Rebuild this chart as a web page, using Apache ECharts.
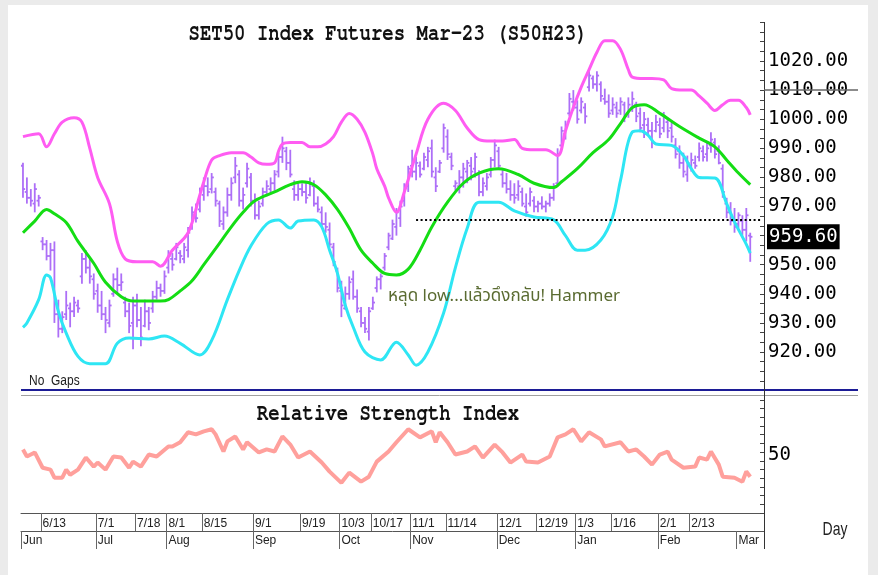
<!DOCTYPE html>
<html>
<head>
<meta charset="utf-8">
<script src="https://cdn.jsdelivr.net/npm/echarts@6.0.0/dist/echarts.min.js"></script>
<style>
  html, body { margin: 0; padding: 0; background: #ebebeb; }
  #setChart { width: 878px; height: 575px; }
</style>
</head>
<body>
<div id="setChart"></div>
<script>
  // trading calendar (SET), Jun 2022 - Mar 2023
  var tradeStart = '2022-06-06';
  var tradeEnd = '2023-03-10';
  var holidays = ['2022-07-13','2022-07-28','2022-07-29','2022-08-12','2022-10-13','2022-10-14',
    '2022-10-24','2022-12-05','2022-12-12','2023-01-02','2023-03-06'];

  var dayTicks = ['6/13','7/1','7/18','8/1','8/15','9/1','9/19','10/3','10/17','11/1','11/14',
    '12/1','12/19','1/3','1/16','2/1','2/13'];
  var monthTicks = ['6/6','7/1','8/1','9/1','10/3','11/1','12/1','1/3','2/1','3/1'];
  var monthNames = ['Jun','Jul','Aug','Sep','Oct','Nov','Dec','Jan','Feb','Mar'];
  var priceLabels = [920, 930, 940, 950, 960, 970, 980, 990, 1000, 1010, 1020];
  var rsiLabels = [50];

  var lastPrice = 959.60;
  var dottedLevel = 965.6;
  var dottedFrom = '11/2';
  var dottedTo = '3/10';

  var openP = [984,975,973,971,972,958,957,953,955,933,928,933,935,934,936,946,952,949,945,941,
    936,933,930,940,945,943,937,934,930,936,931,929,934,935,939,942,941,949,952,952,
    954,952,955,963,967,969,974,977,976,975,971,964,968,974,980,981,972,978,980,972,
    967,971,975,976,978,982,987,989,985,976,974,976,975,974,977,971,968,964,962,956,
    948,941,935,940,945,939,934,930,927,935,942,945,949,956,959,963,966,972,977,984,
    982,984,983,986,990,980,982,990,994,987,977,977,980,982,984,983,981,975,977,981,
    986,989,981,978,976,974,974,975,970,971,972,970,971,970,971,973,978,991,995,1002,
    1006,1004,1003,1004,1011,1014,1012,1012,1007,1006,1003,1004,1003,1005,1002,1004,1005,1002,998,998,
    996,996,998,997,999,997,991,989,985,981,984,985,987,989,988,991,992,989,983,971,
    968,966,964,965,962,960];
  var highP = [985,980,976,978,974,959.5,958.5,957.5,958,938,934,941,937,939,938,954,955,952,947,943.5,
    941,935.5,938,947,949,947,939,937,939,940,935.5,938,935.5,941,944.5,943.5,948,955,954,957.5,
    955,957.5,963,970,971,976.5,980,980,981.5,976.5,972,970,976.5,980,987,982.5,976.5,985,981.5,974.5,
    972,976.5,979,980,982.5,988.5,994,990.5,989.5,979,978,978,978,980,979,973.5,970,968,964.5,957.5,
    949,944.5,942.5,946,948,941.5,935.5,932,935.5,939,946,947,954,961,965.5,969.5,972,978,984,989.5,
    987,985.5,988.5,990.5,993,983.5,986,998.5,996.5,988.5,979,982.5,985,986,987,988.5,982.5,980,981.5,987,
    993,990.5,982.5,981.5,979,978,979,976.5,974.5,976.5,973.5,972,973.5,972,974.5,978,990,997.5,999.5,1009,
    1010,1006.5,1007.5,1005.5,1016.5,1015,1016.5,1013,1010.5,1008.5,1007.5,1006,1007.5,1006,1007.5,1009.5,1006,1004,1002.5,1000.5,
    999,1001.5,1000.5,1002.5,1000.5,999,993.5,991,988.5,987.5,988.5,987.5,992,991,992,995.5,993.5,991,984.5,973,
    971.5,969.5,968,967,969.5,961];
  var lowP = [973,971,970,968,970,955,951.5,948,930,925,926.5,931,928.5,932,933.5,943.5,947,943.5,938,933.5,
    931,926.5,928.5,939,940,941,932,926.5,921,928.5,922,928.5,927.5,933.5,938,939,940,947,948,951.5,
    950.5,950.5,952.5,962,964.5,968,972,973.5,974.5,970,963,962,966.5,972,978,970,969,976.5,970,965.5,
    965.5,970,973.5,974.5,975.5,980,985,982.5,980,972,972,973.5,971,973.5,970,968,963,961,956,949.5,
    940.5,932,934.5,938,938,933.5,928.5,926.5,924,934.5,940.5,941.5,948,955,958.5,960,963,970,975,980,
    979,980,982.5,983.5,980,975,981.5,988.5,986,982.5,975.5,974.5,976.5,978,979,980,973.5,973.5,975.5,980,
    983.5,982.5,976.5,974.5,972,971,972,970,966.5,970,968,968,969,968,970,972,977,990.5,993,1001,
    1003,998.5,1002,998.5,1009.5,1010.5,1009.5,1006,1005,1000.5,1001.5,1000.5,1001.5,999,1000.5,1002.5,999,995.5,993.5,994.5,
    990,995.5,993.5,995.5,993.5,992,986.5,983,980,978.5,982,983,985.5,985.5,985.5,988.5,986.5,984.5,973,966,
    963.5,961,962.5,960,958,951];
  var closeP = [976,973,972,976,973,957,953,955,933,928,932,936,934,937,935,952,949,946,940,936,
    933,931,936,945,943,944,934,929,936,931,925,934,930,939,942,941,946,953,950,956,
    953,956,961,968,966,975,977,975,980,972,965,968,974,978,984,972,974,983,972,967,
    970,975,977,978,981,987,990,985,981,974,976,975,973,978,971,969,964,963,957,951,
    942,936,940,944,939,935,930,928,934,937,945,946,953,960,964,968,970,977,983,982,
    985,981,987,989,982,977,985,997,988,984,978,980,983,985,982,987,975,978,980,986,
    991,984,978,976,974,973,977,971,968,975,970,971,970,971,973,977,988,996,998,1007,
    1004,1000,1006,1001,1015,1012,1015,1008,1006,1002,1005,1002,1006,1001,1005,1007,1001,997,1000,996,
    992,999,995,1001,996,994,988,985,982,985,986,984,990,987,990,993,988,985,975,968,
    965,963,967,962,967,959.6];

  var upperBand = [[0,994],[4,995],[6,990.5],[8,995],[10,999],[13,1000.5],[15,999],[17,990],[19,980],[22,971],
    [24,958],[26,952],[29,951],[33,951],[35,949.5],[38,955],[42,961],[45,974],[46,978.5],[48,986],
    [50,987.5],[53,988.5],[56,988.5],[58,987],[60,985],[62,984.5],[64,985],[65,989],[66,991.5],[68,992],
    [71,992],[73,990.5],[75,990.5],[77,991.5],[79,994],[81,999],[83,1002],[85,1000],[87,995.5],[89,988],
    [90,983],[92,977],[93,973],[95,968],[97,975],[100,988],[103,1000],[107,1005.5],[110,1003],[113,997],
    [116,993],[119,992.5],[122,992.5],[125,993],[127,990],[130,989.5],[133,989.5],[136,987.5],[138,996],[140,1004],
    [142,1011],[144,1017],[146,1023],[148,1027],[150,1027],[152,1024],[154,1017],[155,1014.5],[158,1014],[160,1014],
    [163,1013.5],[165,1010.5],[168,1010],[170,1010],[172,1008],[174,1005.5],[176,1003],[178,1005],[180,1006.5],[182,1006.5],
    [184,1004],[185,1001.5]];
  var midBand = [[0,961],[3,965],[6,969],[8,967.5],[11,964.5],[14,958],[18,950.5],[21,944],[25,939],[28,937.5],
    [32,937.5],[35,937.5],[37,938],[40,941],[43,944.5],[46,950],[49,955.5],[53,963],[56,968],[59,972],
    [64,975],[68,977.5],[71,978.5],[74,977.5],[77,974],[80,969],[83,962.5],[86,955],[89,950.5],[92,947],
    [95,946.5],[98,948.5],[101,955],[104,963],[108,971.5],[112,978],[116,981.5],[121,983],[126,981],[130,978],
    [135,976.5],[137,978.5],[141,983],[145,988.5],[149,993],[152,998.5],[155,1004],[158,1005],[162,1002],[167,997.5],
    [172,993.5],[176,990.5],[179,986],[182,981.5],[185,977.5]];
  var lowerBand = [[0,928.5],[1,930],[4,938],[6,946.5],[7,945.5],[9,934],[11,926.5],[14,918.5],[17,916],[21,916],
    [24,923],[27,924.8],[32,924.5],[36,925.5],[40,923],[45,919],[48,924],[52,938],[55,948],[58,956.5],
    [62,964],[65,965.4],[68,962.6],[70,965],[74,965.4],[76,963],[78,955],[80,947],[82,936],[84,928.6],
    [87,920],[91,917.3],[95,923.4],[98,919],[100,915.5],[103,920],[107,933.4],[110,949],[113,962.5],[116,971.5],
    [121,971.5],[125,968.5],[130,966.4],[135,965.4],[138,960],[141,955],[143,955],[147,958.5],[150,966.5],[152,979],
    [155,995.6],[157,996],[159,994.5],[161,991.5],[165,991],[168,987.5],[170,983],[172,980],[176,979.8],[179,971],
    [181,964.7],[184,957],[185,954]];

  var rsiLine = [[0,54.8],[1,48.7],[3,52.2],[5,39],[7,37.4],[8,30.4],[10,30.4],[11,37.4],[12,33],[14,37.4],
    [16,47.8],[18,40],[19,43.5],[21,37.4],[23,48.7],[25,47.8],[27,39],[28,44.3],[30,40],[32,50.4],
    [34,48.7],[37,57.4],[38,57.4],[40,61],[42,69.6],[44,67.8],[46,70.4],[48,72.2],[49,67.8],[51,53],
    [52,61.7],[54,66],[56,54.8],[57,61],[60,52.2],[62,54.8],[64,53],[66,66],[68,59],[70,47.8],
    [73,53],[76,43.5],[78,35.7],[81,26],[83,34.8],[86,27],[88,31.3],[90,44.3],[93,53],[95,61],
    [98,72.2],[101,65.2],[104,70.4],[105,61],[106,69.6],[108,61],[110,50.4],[113,53],[115,57.4],[117,47.8],
    [120,59],[122,52.2],[124,43.5],[127,50.4],[128,44.3],[131,43.5],[134,48.7],[136,65.2],[138,67.8],[140,72.2],
    [142,61.7],[144,69.6],[147,63.5],[148,57.4],[152,61],[154,53],[156,54.8],[158,48.7],[160,41.7],[162,50.4],
    [164,53],[165,46],[168,39],[171,40],[172,47.8],[174,46],[175,53],[177,41.7],[178,31.3],[181,30.4],
    [183,27],[184,35.7],[185,31.3]];

  var dates = [];
  (function () {
    var d = new Date(tradeStart + 'T00:00:00Z');
    var end = new Date(tradeEnd + 'T00:00:00Z');
    while (d <= end) {
      var iso = d.toISOString().slice(0, 10);
      var wd = d.getUTCDay();
      if (wd !== 0 && wd !== 6 && holidays.indexOf(iso) < 0) {
        dates.push((d.getUTCMonth() + 1) + '/' + d.getUTCDate());
      }
      d.setUTCDate(d.getUTCDate() + 1);
    }
  })();

  var ohlc = openP.map(function (o, i) {
    return [i, o, closeP[i], lowP[i], highP[i]];
  });

  var priceTickMarks = [];
  for (var t = 910; t <= 1033.4; t += 10 / 3) priceTickMarks.push(t);
  var rsiTickMarks = [];
  for (var r = 0; r <= 100; r += 7.5) rsiTickMarks.push(r);

  var labelFont = 'DejaVu Sans Mono';
  var smallFont = '"Liberation Sans Narrow", "Liberation Sans", Arial, sans-serif';

  var myChart = echarts.init(document.getElementById('setChart'));
  var option = {
    animation: false,
    backgroundColor: '#ebebeb',
    grid: [
      {left: 21, top: 22, width: 743, height: 367},
      {left: 21, top: 397, width: 743, height: 116}
    ],
    xAxis: [
      {
        gridIndex: 0, type: 'category', data: dates, boundaryGap: true,
        axisLine: {show: false}, axisTick: {show: false}, axisLabel: {show: false}, splitLine: {show: false}
      },
      {
        gridIndex: 1, type: 'category', data: dates, boundaryGap: true, position: 'bottom',
        axisLine: {lineStyle: {color: '#555', width: 1}},
        axisTick: {show: false},
        axisLabel: {
          align: 'left', margin: 5, color: '#222', fontFamily: smallFont, fontSize: 12,
          interval: function (idx, val) { return dayTicks.indexOf(val) >= 0; }
        },
        splitLine: {show: false}
      },
      {
        gridIndex: 1, type: 'category', data: dates, boundaryGap: true, position: 'bottom', offset: 18,
        axisLine: {lineStyle: {color: '#555', width: 1}},
        axisTick: {show: false},
        axisLabel: {
          align: 'left', margin: 4, color: '#222', fontFamily: smallFont, fontSize: 12,
          interval: function (idx, val) { return monthTicks.indexOf(val) >= 0; },
          formatter: function (val) { return monthNames[monthTicks.indexOf(val)]; }
        },
        splitLine: {show: false}
      }
    ],
    yAxis: [
      {
        gridIndex: 0, type: 'value', position: 'right', min: 907.3, max: 1033.4,
        axisLine: {show: false},
        axisTick: {show: true, inside: true, length: 4, customValues: priceTickMarks, lineStyle: {color: '#444'}},
        axisLabel: {
          customValues: priceLabels, margin: 4, color: '#000', fontFamily: labelFont, fontSize: 19,
          formatter: function (v) { return v.toFixed(2); }
        },
        splitLine: {show: false}
      },
      {
        gridIndex: 1, type: 'value', position: 'right', min: 0, max: 100,
        axisLine: {show: false},
        axisTick: {show: true, inside: true, length: 4, customValues: rsiTickMarks, lineStyle: {color: '#444'}},
        axisLabel: {customValues: rsiLabels, margin: 4, color: '#000', fontFamily: labelFont, fontSize: 19},
        splitLine: {show: false}
      }
    ],
    series: [
      {
        name: 'S50H23', type: 'custom', xAxisIndex: 0, yAxisIndex: 0, z: 1, clip: true,
        data: ohlc,
        encode: {x: 0, y: [1, 2, 3, 4]},
        renderItem: function (params, api) {
          var i = api.value(0);
          var hi = api.coord([i, api.value(4)]);
          var lo = api.coord([i, api.value(3)]);
          var op = api.coord([i, api.value(1)]);
          var cl = api.coord([i, api.value(2)]);
          var w = api.size([1, 0])[0] * 0.55;
          var st = {stroke: '#ad6ff7', lineWidth: 1.8};
          return {
            type: 'group',
            children: [
              {type: 'line', shape: {x1: hi[0], y1: hi[1], x2: lo[0], y2: lo[1]}, style: st},
              {type: 'line', shape: {x1: op[0] - w, y1: op[1], x2: op[0], y2: op[1]}, style: st},
              {type: 'line', shape: {x1: cl[0], y1: cl[1], x2: cl[0] + w, y2: cl[1]}, style: st}
            ]
          };
        },
        markLine: {
          silent: true, symbol: ['none', 'none'], animation: false,
          data: [
            {
              yAxis: lastPrice,
              lineStyle: {color: 'rgba(0,0,0,0)', width: 0},
              label: {
                show: true, position: 'end', distance: 3,
                formatter: function () { return lastPrice.toFixed(2); },
                backgroundColor: '#000', color: '#fff', fontFamily: labelFont, fontSize: 19,
                padding: [3, 2, 3, 2]
              }
            }
          ]
        }
      },
      {
        name: 'upper', type: 'line', xAxisIndex: 0, yAxisIndex: 0, z: 3,
        data: upperBand, smooth: 0.35, symbol: 'none',
        lineStyle: {color: '#ff5cf2', width: 3}
      },
      {
        name: 'middle', type: 'line', xAxisIndex: 0, yAxisIndex: 0, z: 3,
        data: midBand, smooth: 0.35, symbol: 'none',
        lineStyle: {color: '#14dd14', width: 3},
        markLine: {
          silent: true, symbol: ['none', 'none'], animation: false,
          data: [
            [
              {coord: [dottedFrom, dottedLevel], lineStyle: {color: '#000', width: 2, type: [2, 2.5]}, label: {show: false}},
              {coord: [dottedTo, dottedLevel]}
            ]
          ]
        }
      },
      {
        name: 'lower', type: 'line', xAxisIndex: 0, yAxisIndex: 0, z: 3,
        data: lowerBand, smooth: 0.35, symbol: 'none',
        lineStyle: {color: '#2ee6f4', width: 3}
      },
      {
        name: 'RSI', type: 'line', xAxisIndex: 1, yAxisIndex: 1, z: 3,
        data: rsiLine, symbol: 'none',
        lineStyle: {color: '#ffa09c', width: 4}
      }
    ]
  };
  myChart.setOption(option);

  // date row separators, placed at the left edge of each labelled bar
  var bw = myChart.convertToPixel({xAxisIndex: 1}, dates[1]) - myChart.convertToPixel({xAxisIndex: 1}, dates[0]);
  var sep = [];
  dayTicks.forEach(function (d) {
    var x = Math.round(myChart.convertToPixel({xAxisIndex: 1}, d) - bw / 2) + 0.5;
    sep.push({type: 'line', z: 5, silent: true, shape: {x1: x, y1: 513, x2: x, y2: 531}, style: {stroke: '#666', lineWidth: 1}});
  });
  monthTicks.forEach(function (d) {
    var x = Math.round(myChart.convertToPixel({xAxisIndex: 2}, d) - bw / 2) + 0.5;
    sep.push({type: 'line', z: 5, silent: true, shape: {x1: x, y1: 531, x2: x, y2: 549}, style: {stroke: '#666', lineWidth: 1}});
  });

  var y1010 = myChart.convertToPixel({yAxisIndex: 0}, 1010);
  var titleFont = 'bold 19px "Nimbus Mono PS", "Nimbus Mono L", FreeMono, "Courier New", "Liberation Mono", monospace';
  var deco = [
    {type: 'rect', z: -10, silent: true, shape: {x: 8, y: 5, width: 860, height: 570}, style: {fill: '#fff'}},
    {type: 'line', z: 5, silent: true, shape: {x1: 21, y1: 390, x2: 858, y2: 390}, style: {stroke: '#1c1c96', lineWidth: 2}},
    {type: 'line', z: 5, silent: true, shape: {x1: 21, y1: 395.5, x2: 858, y2: 395.5}, style: {stroke: '#a0a0a0', lineWidth: 1}},
    {type: 'line', z: 5, silent: true, shape: {x1: 764.5, y1: 22, x2: 764.5, y2: 549}, style: {stroke: '#333', lineWidth: 1}},
    {type: 'line', z: 5, silent: true, shape: {x1: 764, y1: y1010, x2: 858, y2: y1010}, style: {stroke: '#666', lineWidth: 1.5}},
    {
      type: 'text', x: 388, y: 33, scaleY: 1.28, z: 6, silent: true,
      style: {text: 'SET50 Index Futures Mar-23 (S50H23)', font: titleFont, fill: '#111',
        textAlign: 'center', textVerticalAlign: 'middle', align: 'center', verticalAlign: 'middle'}
    },
    {
      type: 'text', x: 388, y: 413, scaleY: 1.28, z: 6, silent: true,
      style: {text: 'Relative Strength Index', font: titleFont, fill: '#111',
        textAlign: 'center', textVerticalAlign: 'middle', align: 'center', verticalAlign: 'middle'}
    },
    {
      type: 'text', x: 29, y: 381, scaleY: 1.28, z: 6, silent: true,
      style: {text: 'No  Gaps', font: '12px "Liberation Sans", Arial, sans-serif', fill: '#222',
        textAlign: 'left', textVerticalAlign: 'middle', align: 'left', verticalAlign: 'middle'}
    },
    {
      type: 'text', x: 835, y: 530, scaleY: 1.28, z: 6, silent: true,
      style: {text: 'Day', font: '14px "Liberation Sans", Arial, sans-serif', fill: '#222',
        textAlign: 'center', textVerticalAlign: 'middle', align: 'center', verticalAlign: 'middle'}
    },
    {
      type: 'text', x: 388, y: 298, z: 6, silent: true,
      style: {text: 'หลุด low...แล้วดึงกลับ! Hammer',
        font: '17px "Noto Sans Thai", "Noto Sans", Tahoma, sans-serif', fill: '#5a6b31',
        textAlign: 'left', textVerticalAlign: 'middle', align: 'left', verticalAlign: 'middle'}
    }
  ];
  myChart.setOption({graphic: deco.concat(sep)});
</script>
</body>
</html>
